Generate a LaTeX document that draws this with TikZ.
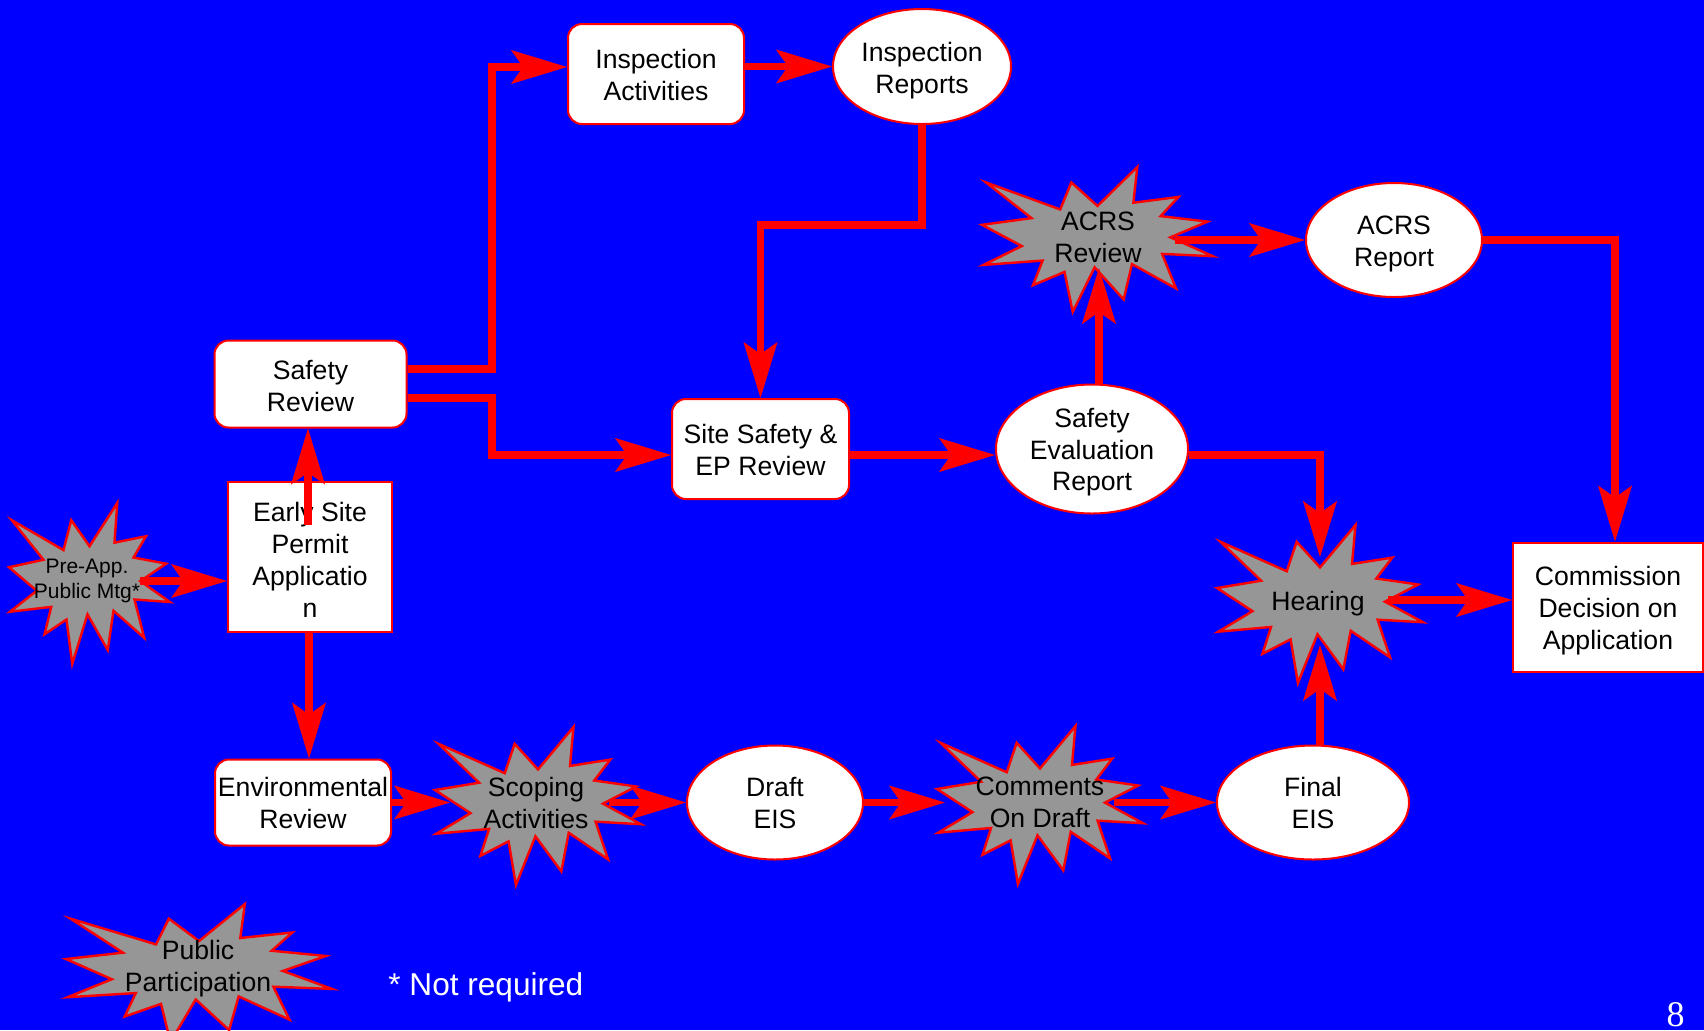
\documentclass[tikz,border=0pt]{standalone}
\usepackage{fontspec}
\setmainfont{Liberation Sans}
\newfontfamily\serifnum{Liberation Serif}
\usetikzlibrary{arrows.meta,shapes.geometric,calc}
\definecolor{burstgray}{RGB}{150,150,150}
\newcommand\burstshape{\draw[burst] (0.5,0.2685) -- (0.6723,0) -- (0.6553,0.2465) -- (0.8509,0.2063) -- (0.7732,0.3387) -- (0.9767,0.3767) -- (0.8151,0.4850) -- (1,0.6153) -- (0.7795,0.5992) -- (0.8400,0.8377) -- (0.6491,0.6693) -- (0.6133,0.9137) -- (0.4876,0.6914) -- (0.3928,1) -- (0.3572,0.7235) -- (0.2205,0.8156) -- (0.2624,0.6452) -- (0.00625,0.6753) -- (0.1723,0.5451) -- (0,0.3988) -- (0.2142,0.3526) -- (0.0171,0.1063) -- (0.3385,0.2926) -- (0.3867,0.1063) -- cycle;}
\begin{document}
\begin{tikzpicture}[x=0.5pt,y=-0.5pt,
  base/.style={font=\fontsize{13.3}{16}\selectfont, align=center, inner sep=0pt, text=black},
  rbox/.style={base, rectangle, rounded corners=7pt, draw=red, fill=white, line width=1pt},
  sbox/.style={base, rectangle, draw=red, fill=white, line width=1pt},
  ell/.style={base, ellipse, draw=red, fill=white, line width=1pt},
  btext/.style={base},
  lbl/.style={base},
  burst/.style={draw=red, fill=burstgray, line width=1.2pt, line join=miter},
  conn/.style={draw=red, line width=3.75pt, line join=miter,
    -{Stealth[length=28pt, width=17pt, inset=6pt, line width=0.5pt]}},
  note/.style={font=\fontsize{15.8}{19}\selectfont, text=white, inner sep=0pt}
]
\useasboundingbox (0,0) rectangle (1704,1030);
\fill[blue] (0,0) rectangle (1704,1030);

% boxes
\node[rbox, minimum width=88pt, minimum height=50pt,
  label={[lbl, yshift=-0.55pt]center:{Inspection\\Activities}}] (ia) at (656,74) {};
\node[rbox, minimum width=96pt, minimum height=43.5pt,
  label={[lbl, yshift=-0.8pt]center:{Safety\\Review}}] (sr) at (310.5,384) {};
\node[rbox, minimum width=88.5pt, minimum height=50pt,
  label={[lbl, yshift=-0.55pt]center:{Site Safety \&\\EP Review}}] (ss) at (760.5,449) {};
\node[rbox, minimum width=88pt, minimum height=43pt,
  label={[lbl, yshift=-0.3pt]center:{Environmental\\Review}}] (er) at (303,802.5) {};
\node[sbox, minimum width=82pt, minimum height=75pt,
  label={[lbl, yshift=-1.35pt]center:{Early Site\\Permit\\Applicatio\\n}}] (esp) at (310,557) {};
\node[sbox, minimum width=95pt, minimum height=64.5pt,
  label={[lbl, yshift=-1.9pt]center:{Commission\\Decision on\\Application}}] (cd) at (1608,607) {};

% ellipses
\node[ell, minimum width=89pt, minimum height=57.5pt,
  label={[lbl, yshift=-1.9pt]center:{Inspection\\Reports}}] (irep) at (922,66.5) {};
\node[ell, minimum width=96pt, minimum height=64.5pt,
  label={[lbl, yshift=-1.6pt, font=\fontsize{13.3}{15.8}\selectfont]center:{Safety\\Evaluation\\Report}}] (ser) at (1092,449) {};
\node[ell, minimum width=88pt, minimum height=57pt,
  label={[lbl, yshift=-2.2pt]center:{ACRS\\Report}}] (acrsr) at (1394,240) {};
\node[ell, minimum width=88pt, minimum height=57pt,
  label={[lbl, yshift=-0.3pt]center:{Draft\\EIS}}] (draft) at (775,802.5) {};
\node[ell, minimum width=96pt, minimum height=57pt,
  label={[lbl, yshift=-0.3pt]center:{Final\\EIS}}] (final) at (1313,802.5) {};

% starbursts
\begin{scope}[shift={(9,503)}, xscale=161, yscale=161]\burstshape\end{scope}
\node[btext, font=\fontsize{10.5}{12.5}\selectfont] (pre) at (87,581) {Pre-App.\\Public Mtg*};
\begin{scope}[shift={(982,167)}, xscale=231, yscale=145]\burstshape\end{scope}
\node[btext] (acrs) at (1098,237) {ACRS\\Review};
\begin{scope}[shift={(1217,525)}, xscale=206, yscale=158]\burstshape\end{scope}
\node[btext] (hear) at (1318,604) {Hearing};
\begin{scope}[shift={(435,727)}, xscale=206, yscale=158]\burstshape\end{scope}
\node[btext] (scop) at (536,802.5) {Scoping\\Activities};
\begin{scope}[shift={(937,726)}, xscale=206, yscale=158]\burstshape\end{scope}
\node[btext] (comm) at (1040,802.5) {Comments\\On Draft};
\begin{scope}[shift={(66,904)}, xscale=266, yscale=138]\burstshape\end{scope}
\node[btext] (pub) at (198,968.5) {Public\\Participation};

% notes
\node[note, anchor=base west] (notreq) at (388,995) {* Not required};
\node[note, font=\serifnum\fontsize{18}{20}\selectfont, anchor=base] (pgno) at (1675.5,1026) {8};

% bend points
\coordinate (b1) at (492,67);
\coordinate (b2) at (492,455);
\coordinate (b3) at (922,225);

% connectors
\draw[conn] ($(sr.east)+(0,-15)$) -| (b1) -- ($(ia.west)+(0,-7)$);
\draw[conn] ($(sr.east)+(0,14)$) -| (b2) -- ($(ss.west)+(0,6)$);
\draw[conn] (irep.west -| ia.east) -- (irep.west);
\draw[conn] (irep.south) -- (b3) -| (ss.north);
\draw[conn] ($(ss.east)+(0,6)$) -- ($(ser.west)+(0,6)$);
\draw[conn] ($(ser.north)+(7,0)$) -- ($(acrs.center)+(1,31)$);
\draw[conn] ($(acrs.center)+(77,3)$) -- (acrsr.west);
\draw[conn] (acrsr.east) -| ($(cd.north)+(7,0)$);
\draw[conn] ($(ser.east)+(0,6)$) -| ($(hear.center)+(2,-47)$);
\draw[conn] ($(hear.center)+(70,-4)$) -- ($(cd.west)+(0,-7)$);
\draw[conn] ($(final.north)+(7,0)$) -- ($(hear.center)+(2,41)$);
\draw[conn] ($(esp.center)+(-2,-32)$) -- ($(sr.south)+(-2.5,0)$);
\draw[conn] ($(esp.south)+(-1,0)$) -- ($(er.north)+(6,0)$);
\draw[conn] ($(pre.center)+(53,0)$) -- ($(esp.west)+(0,24)$);
\draw[conn] (er.east) -- ($(scop.center)+(-86,0)$);
\draw[conn] ($(scop.center)+(73,0)$) -- (draft.west);
\draw[conn] (draft.east) -- ($(comm.center)+(-95,0)$);
\draw[conn] ($(comm.center)+(74,0)$) -- (final.west);
\end{tikzpicture}
\end{document}
